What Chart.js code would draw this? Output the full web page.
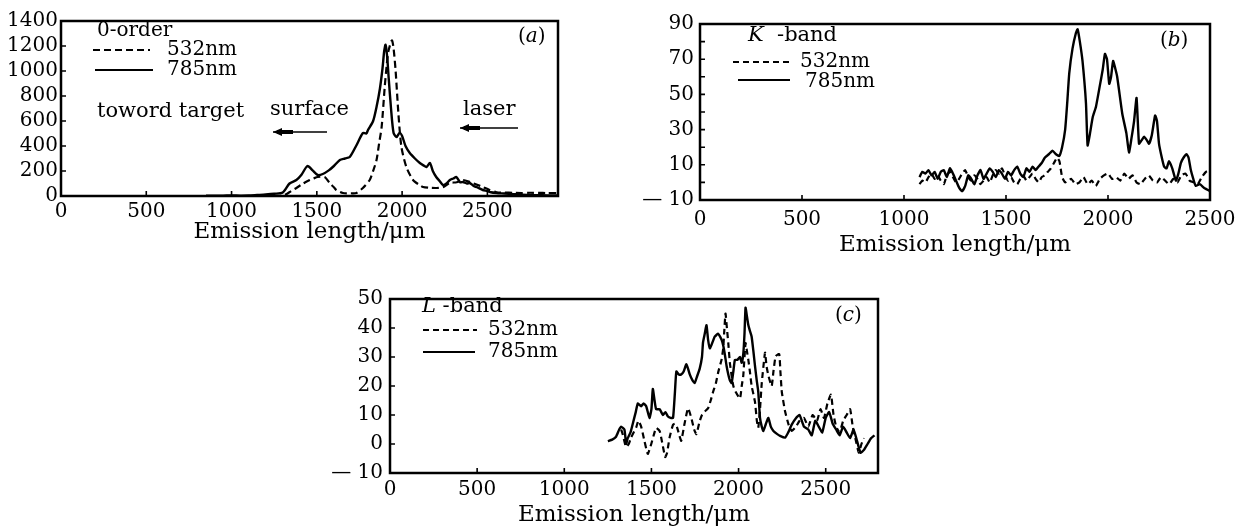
<!DOCTYPE html>
<html><head><meta charset="utf-8">
<script src="https://cdn.jsdelivr.net/npm/chart.js@4.4.1/dist/chart.umd.min.js"></script>
<style>
html,body{margin:0;padding:0;background:#fff;}
body{width:1240px;height:529px;position:relative;overflow:hidden;}
canvas{position:absolute;}
</style></head><body>
<canvas id="ca" width="575" height="250" style="left:0;top:0"></canvas>
<canvas id="cb" width="600" height="262" style="left:640px;top:0"></canvas>
<canvas id="cc" width="600" height="249" style="left:320px;top:280px"></canvas>
<script>
// ---------- DATA ----------
const seriesLabels = ['532nm', '785nm'];
const xTitle = 'Emission length/\u03bcm';
const xTicks = [0, 500, 1000, 1500, 2000, 2500];
const yTicksA = [0, 200, 400, 600, 800, 1000, 1200, 1400];
const yTicksB = [-10, 0, 10, 20, 30, 40, 50, 60, 70, 80, 90];
const yLabelsB = [-10, 10, 30, 50, 70, 90];
const yTicksC = [-10, 0, 10, 20, 30, 40, 50];

// (a) 0-order
const a785X = [850,950,1000,1050,1100,1150,1200,1250,1300,1340,
               1380,1410,1445,1475,1505,1535,1570,1600,1635,1665,
               1693,1730,1770,1790,1800,1830,1850,1870,1885,1895,
               1903,1912,1922,1935,1950,1968,1985,2000,2020,2045,
               2075,2104,2125,2143,2163,2180,2200,2220,2240,2260,
               2280,2300,2318,2340,2357,2380,2397,2420,2440,2473,
               2500,2520,2553,2600,2650,2700,2750,2800,2850,2914];
const a785Y = [2,3,5,3,4,8,12,18,28,100,
               128,170,240,205,168,176,205,240,288,300,
               312,400,504,500,528,600,712,860,1020,1160,
               1210,1120,930,700,504,472,505,480,400,344,
               300,264,245,232,264,200,152,120,88,100,
               128,140,152,110,112,100,104,80,70,48,
               40,30,24,20,15,10,8,6,5,4];
const a532X = [1250,1311,1350,1380,1420,1458,1480,1505,1546,1575,
               1600,1614,1653,1700,1732,1770,1810,1830,1850,1865,
               1880,1898,1910,1920,1940,1950,1962,1978,1996,2025,
               2064,2100,2123,2160,2200,2240,2279,2320,2357,2400,
               2440,2473,2510,2553,2600,2650,2700,2750,2800,2850,2914];
const a532Y = [0,8,40,64,100,128,140,152,152,104,
               70,48,24,22,24,64,128,200,288,420,
               552,872,1050,1160,1245,1180,1000,664,392,232,
               128,90,72,66,64,70,104,110,128,110,
               90,72,50,30,28,26,24,26,25,24,24];

// (b) K-band
const b785X = [1076,1090,1105,1120,1135,1150,1165,1180,1195,1210,
               1225,1240,1255,1270,1285,1300,1315,1330,1345,1360,
               1375,1390,1405,1420,1435,1450,1465,1480,1495,1510,
               1525,1540,1555,1570,1585,1600,1615,1630,1645,1660,
               1675,1690,1710,1728,1745,1761,1775,1790,1800,1810,
               1826,1843,1851,1862,1875,1892,1900,1912,1925,1941,
               1960,1974,1985,1995,2006,2015,2025,2035,2045,2070,
               2090,2103,2115,2128,2140,2152,2165,2177,2190,2201,
               2215,2231,2240,2250,2262,2275,2287,2299,2315,2333,
               2345,2357,2370,2385,2395,2406,2418,2430,2450,2470,
               2485,2500];
const b785Y = [3,6,5,7,4,6,2,6,7,3,
               8,5,1,-3,-5,-2,4,2,-1,4,
               7,2,5,8,6,3,7,5,2,6,
               4,7,9,5,3,8,6,9,7,9,
               11,14,16,18,16,15,20,30,45,62,
               76,85,87,80,69,45,21,28,37,43,
               55,64,73,70,56,60,69,65,60,39,
               28,17,25,35,48,22,24,26,24,22,
               27,38,35,22,15,9,8,12,8,1,
               5,11,14,16,14,7,2,-2,-1,-3,
               -4,-5];
const b532X = [1076,1090,1105,1120,1135,1150,1165,1180,1195,1210,
               1225,1240,1255,1270,1285,1300,1315,1330,1345,1360,
               1375,1390,1405,1420,1435,1450,1465,1480,1495,1510,
               1525,1540,1555,1570,1585,1600,1615,1630,1645,1660,
               1675,1690,1705,1720,1735,1750,1762,1775,1790,1805,
               1820,1840,1860,1880,1900,1920,1940,1960,1980,2000,
               2020,2040,2060,2080,2100,2120,2140,2160,2180,2200,
               2220,2240,2260,2280,2300,2320,2340,2360,2380,2400,
               2420,2440,2460,2480,2500];
const b532Y = [-1,1,0,3,5,2,4,1,-1,4,
               6,3,0,2,5,7,3,1,4,2,
               -1,1,3,0,4,7,5,8,4,1,
               3,0,-1,2,4,1,3,5,2,0,
               3,4,6,8,11,14,12,3,0,1,
               2,-1,0,3,-1,1,-2,2,4,5,
               2,3,1,5,2,4,0,-1,2,4,
               1,0,3,1,-1,2,0,4,5,1,
               0,-1,3,6,7];

// (c) L-band
const c785X = [1250,1275,1297,1315,1326,1345,1355,1364,1380,1393,
               1410,1422,1441,1455,1470,1489,1500,1508,1518,1527,
               1547,1566,1580,1595,1610,1624,1635,1643,1657,1671,
               1685,1700,1710,1720,1735,1748,1760,1777,1790,1796,
               1806,1816,1825,1835,1850,1863,1883,1902,1912,1921,
               1931,1941,1950,1960,1970,1979,1993,2008,2018,2027,
               2034,2040,2048,2056,2065,2075,2085,2094,2104,2113,
               2123,2133,2142,2157,2171,2185,2200,2220,2238,2267,
               2285,2305,2330,2350,2375,2400,2420,2440,2460,2480,
               2500,2520,2540,2560,2580,2600,2620,2640,2660,2680,
               2700,2720,2740,2760,2780];
const c785Y = [1,1.5,2.5,5,6,5,0,2,4,7,
               11,14,13,14,13,9,12,19,15,12,
               12,10,11,9.5,9,9,18,25,24,24,
               25,27.5,26,24,22,21,23,26,30,35,
               38,41,36,33,35,37,38,36,34,31,
               27,24,22,21,25,29,29,30,28,31,
               38,47,44,41,39,37,32,27,22,18,
               9,6,4.5,7,9,6,4.5,3.5,2.8,2.2,
               4,6.7,9,10,6,5,3,8,6,4,
               9,11,7,5,3,6,4,2,5,1,
               -3,-2,0,2,3];
const c532X = [1326,1335,1354,1370,1383,1398,1412,1425,1441,1460,
               1479,1499,1513,1527,1547,1560,1579,1590,1604,1624,
               1636,1648,1660,1671,1690,1710,1729,1745,1758,1777,
               1790,1806,1825,1840,1854,1870,1883,1902,1912,1917,
               1925,1933,1941,1950,1960,1970,1983,2008,2018,2027,
               2040,2048,2056,2065,2075,2094,2105,2113,2123,2133,
               2152,2160,2171,2190,2200,2213,2233,2240,2248,2267,
               2287,2305,2330,2350,2375,2400,2425,2450,2470,2490,
               2510,2530,2545,2560,2580,2600,2620,2640,2655,2670,
               2690,2705,2720];
const c532Y = [5,3.4,-1,0,2.2,4,5.6,8,6,1,
               -3.4,0,3,5.6,4.5,1,-4.5,-3,2.2,6.7,
               7,5.6,3,1.1,7,12.3,9,5,3.4,7.9,
               10,11.2,12.3,15,18,21,24.7,29,33,38,
               45,40,34.8,28,23.6,20,18,15.7,20,23.6,
               34.8,32,29,25,20,14.6,8,5.6,12,21,
               31.5,27,23.6,20,25,30.3,31,25,18,11.2,
               6.7,4.5,6,8,9,6,10,8,12,9,
               14,17,10,6,4,8,10,12,6,2,
               -3,0,2];

// ---------- helpers ----------
const FAM = '"DejaVu Serif", serif';
function pts(xs, ys){ const n = Math.min(xs.length, ys.length); const o=[]; for(let i=0;i<n;i++) o.push({x:xs[i], y:ys[i]}); return o; }

const framePlugin = {
  id: 'frame',
  afterDraw(chart, args, opts){
    const {ctx, chartArea:a} = chart;
    ctx.save();
    ctx.strokeStyle = '#000';
    ctx.lineWidth = 1.6;
    const xs = chart.scales.x, ys = chart.scales.y;
    ctx.beginPath();
    for (const t of xs.ticks){ const p = xs.getPixelForValue(t.value); ctx.moveTo(p, a.bottom); ctx.lineTo(p, a.bottom - opts.tick); }
    for (const t of ys.ticks){ const p = ys.getPixelForValue(t.value); ctx.moveTo(a.left, p); ctx.lineTo(a.left + opts.tick, p); }
    ctx.stroke();
    ctx.lineWidth = opts.width;
    ctx.strokeRect(a.left, a.top, a.right - a.left, a.bottom - a.top);
    ctx.restore();
  }
};

const decoPlugin = {
  id: 'deco',
  afterDraw(chart, args, opts){
    const ctx = chart.ctx;
    ctx.save();
    ctx.fillStyle = '#000'; ctx.strokeStyle = '#000';
    ctx.textBaseline = 'middle'; ctx.textAlign = 'left';
    (opts.texts||[]).forEach(t => {
      let x = t.x;
      t.parts.forEach(p => {
        ctx.font = (p.i ? 'italic ' : '') + t.size + 'px ' + FAM;
        ctx.fillText(p.t, x, t.y);
        x += ctx.measureText(p.t).width;
      });
    });
    (opts.legend||[]).forEach(l => {
      const ds = chart.data.datasets[l.ds];
      ctx.lineWidth = 2;
      ctx.setLineDash(ds.borderDash || []);
      ctx.beginPath(); ctx.moveTo(l.x1, l.y); ctx.lineTo(l.x2, l.y); ctx.stroke();
      ctx.setLineDash([]);
      ctx.font = l.size + 'px ' + FAM;
      ctx.fillText(ds.label, l.tx, l.ty);
    });
    (opts.arrows||[]).forEach(r => {
      ctx.lineWidth = 1.5;
      ctx.beginPath(); ctx.moveTo(r.x1, r.y); ctx.lineTo(r.x2, r.y); ctx.stroke();
      ctx.lineWidth = 4;
      ctx.beginPath(); ctx.moveTo(r.x1 + 4, r.y); ctx.lineTo(r.x1 + 20, r.y); ctx.stroke();
      ctx.beginPath(); ctx.moveTo(r.x1, r.y); ctx.lineTo(r.x1 + 9, r.y - 4); ctx.lineTo(r.x1 + 9, r.y + 4); ctx.closePath(); ctx.fill();
    });
    ctx.restore();
  }
};

function makeChart(id, c){
  return new Chart(document.getElementById(id), {
    type: 'line',
    data: { datasets: [
      { label: seriesLabels[0], data: c.d532, borderColor:'#000', borderWidth:2.2, borderDash:c.dash, pointRadius:0, tension:c.tension, fill:false },
      { label: seriesLabels[1], data: c.d785, borderColor:'#000', borderWidth:2.4, pointRadius:0, tension:c.tension, fill:false }
    ]},
    options: {
      responsive:false, animation:false, devicePixelRatio:1,
      layout:{ padding:c.pad },
      plugins:{ legend:{display:false}, tooltip:{enabled:false}, frame:{width:2.5, tick:5}, deco:c.deco },
      scales:{
        x:{ type:'linear', min:c.xMin, max:c.xMax,
            grid:{display:false, drawTicks:false}, border:{display:false},
            ticks:{ autoSkip:false, maxRotation:0, padding:0, color:'#000',
                    font:{family:FAM, size:20, lineHeight:c.xLH}, callback:v => String(v) },
            afterBuildTicks(s){ s.ticks = xTicks.map(v => ({value:v})); },
            title:{ display:true, text:xTitle, color:'#000', font:{family:FAM, size:23, lineHeight:1.2}, padding:{top:0, bottom:c.tPB} },
            afterFit(s){ s.height = c.xH; } },
        y:{ type:'linear', min:c.yMin, max:c.yMax,
            grid:{display:false, drawTicks:false}, border:{display:false},
            ticks:{ autoSkip:false, padding:c.yPad, color:'#000',
                    font:{family:FAM, size:20}, callback:c.yCb },
            afterBuildTicks(s){ s.ticks = c.yTicks.map(v => ({value:v})); },
            afterFit(s){ s.width = c.yW; } }
      }
    },
    plugins:[framePlugin, decoPlugin]
  });
}

const fmt = v => v < 0 ? '\u2014 ' + Math.abs(v) : String(v);

// (a)
makeChart('ca', {
  d532: pts(a532X, a532Y), d785: pts(a785X, a785Y), dash:[7,4], tension:0.25,
  pad:{top:21, right:17, bottom:0, left:0}, xMin:0, xMax:2914, xLH:1.6, xH:54, tPB:4,
  yMin:0, yMax:1400, yTicks:yTicksA, yPad:3, yW:61, yCb:fmt,
  deco:{
    texts:[
      {x:97, y:31, size:20, parts:[{t:'0-order'}]},
      {x:97, y:112, size:21, parts:[{t:'toword target'}]},
      {x:270, y:110, size:21, parts:[{t:'surface'}]},
      {x:463, y:110, size:21, parts:[{t:'laser'}]},
      {x:518, y:37, size:20, parts:[{t:'('},{t:'a',i:true},{t:')'}]}
    ],
    legend:[
      {ds:0, x1:93, x2:150, y:50, tx:167, ty:50, size:20},
      {ds:1, x1:95, x2:153, y:70, tx:167, ty:70, size:20}
    ],
    arrows:[ {x1:273, x2:327, y:132}, {x1:460, x2:518, y:128} ]
  }
});

// (b)
makeChart('cb', {
  d532: pts(b532X, b532Y), d785: pts(b785X, b785Y), dash:[6,4], tension:0.15,
  pad:{top:24, right:30, bottom:0, left:0}, xMin:0, xMax:2500, xLH:2.0, xH:62, tPB:3,
  yMin:-10, yMax:90, yTicks:yTicksB, yPad:6, yW:60,
  yCb: v => yLabelsB.includes(v) ? fmt(v) : '',
  deco:{
    texts:[
      {x:108, y:36, size:21, parts:[{t:'K',i:true},{t:'  -band'}]},
      {x:520, y:41, size:20, parts:[{t:'('},{t:'b',i:true},{t:')'}]}
    ],
    legend:[
      {ds:0, x1:93, x2:150, y:62, tx:160, ty:62, size:20},
      {ds:1, x1:98, x2:150, y:80, tx:165, ty:82, size:20}
    ]
  }
});

// (c)
makeChart('cc', {
  d532: pts(c532X, c532Y), d785: pts(c785X, c785Y), dash:[6,4], tension:0.15,
  pad:{top:15, right:42, bottom:0, left:0}, xMin:0, xMax:2800, xLH:1.7, xH:56, tPB:0,
  yMin:-10, yMax:50, yTicks:yTicksC, yPad:7, yW:70, yCb:fmt,
  deco:{
    texts:[
      {x:102, y:27, size:21, parts:[{t:'L',i:true},{t:' -band'}]},
      {x:515, y:36, size:20, parts:[{t:'('},{t:'c',i:true},{t:')'}]}
    ],
    legend:[
      {ds:0, x1:103, x2:157, y:50, tx:168, ty:50, size:20},
      {ds:1, x1:103, x2:155, y:72, tx:168, ty:72, size:20}
    ]
  }
});
</script>
</body></html>
